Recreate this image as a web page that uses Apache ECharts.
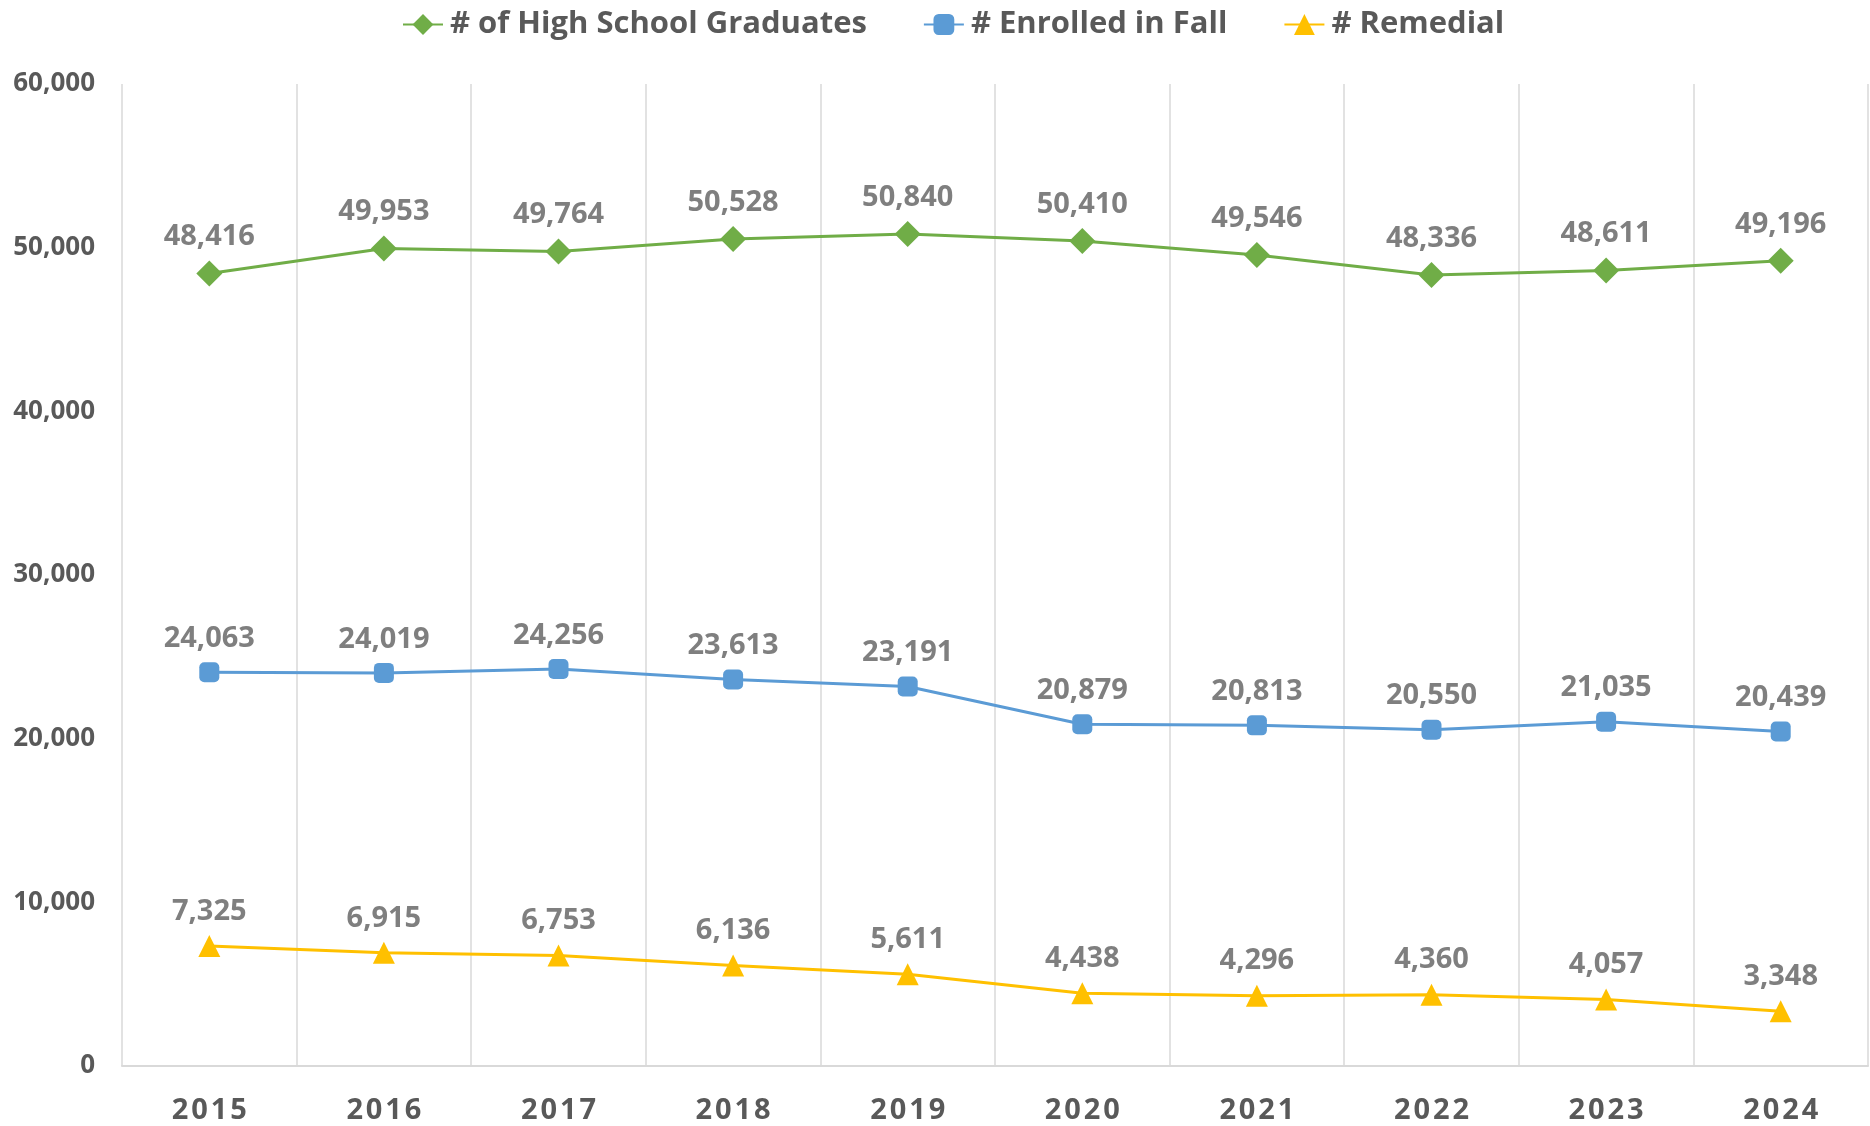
<!DOCTYPE html>
<html lang="en" style="height: 100%">
    <head>
        <meta charset="utf-8" />
    </head>
    <body style="height: 100%; margin: 0; background: #fff">
        <div id="container" style="height: 100%"></div>

        <script
            type="text/javascript"
            src="https://fastly.jsdelivr.net/npm/echarts@6/dist/echarts.min.js"
        ></script>

        <script type="text/javascript">
            var years = ['2015', '2016', '2017', '2018', '2019', '2020', '2021', '2022', '2023', '2024'];
            var graduates = [48416, 49953, 49764, 50528, 50840, 50410, 49546, 48336, 48611, 49196];
            var enrolled = [24063, 24019, 24256, 23613, 23191, 20879, 20813, 20550, 21035, 20439];
            var remedial = [7325, 6915, 6753, 6136, 5611, 4438, 4296, 4360, 4057, 3348];

            var FONT = '"Open Sans", "Noto Sans", sans-serif';

            var dom = document.getElementById('container');
            var myChart = echarts.init(dom, null, { renderer: 'canvas' });

            function fmt(v) {
                return v.toLocaleString('en-US');
            }

            function lineSeries(name, data, color, symbol, size) {
                return {
                    name: name,
                    type: 'line',
                    data: data,
                    symbol: symbol,
                    symbolSize: size,
                    showAllSymbol: true,
                    animation: false,
                    lineStyle: { color: color, width: 3 },
                    itemStyle: { color: color },
                    label: {
                        show: true,
                        position: 'top',
                        distance: 9,
                        color: '#7f7f7f',
                        fontFamily: FONT,
                        fontWeight: 'bold',
                        fontSize: 29,
                        formatter: function (p) {
                            return fmt(p.value);
                        }
                    }
                };
            }

            var option = {
                backgroundColor: '#fff',
                legend: {
                    top: 4,
                    left: 397,
                    itemWidth: 40,
                    itemHeight: 26,
                    itemGap: 56,
                    textStyle: {
                        color: '#595959',
                        fontFamily: FONT,
                        fontWeight: 'bold',
                        fontSize: 31,
                        padding: [0, 0, 0, 2]
                    },
                    data: ['# of High School Graduates', '# Enrolled in Fall', '# Remedial']
                },
                grid: {
                    left: 122,
                    right: 2,
                    top: 84,
                    bottom: 60,
                    containLabel: false
                },
                xAxis: {
                    type: 'category',
                    data: years,
                    boundaryGap: true,
                    axisLine: { lineStyle: { color: '#d9d9d9', width: 2 } },
                    axisTick: { show: false },
                    splitLine: { show: true, lineStyle: { color: '#d9d9d9', width: 1.5 } },
                    axisLabel: {
                        margin: 30,
                        color: '#595959',
                        fontFamily: FONT,
                        fontWeight: 'bold',
                        fontSize: 29,
                        formatter: function (v) {
                            return v.split('').join('\u200A');
                        }
                    }
                },
                yAxis: {
                    type: 'value',
                    min: 0,
                    max: 60000,
                    interval: 10000,
                    axisLine: { show: false },
                    axisTick: { show: false },
                    splitLine: { show: false },
                    axisLabel: {
                        margin: 27,
                        color: '#595959',
                        fontFamily: FONT,
                        fontWeight: 'bold',
                        fontSize: 26,
                        formatter: function (v) {
                            return fmt(v);
                        }
                    }
                },
                series: [
                    lineSeries('# of High School Graduates', graduates, '#70AD47', 'diamond', 26),
                    lineSeries('# Enrolled in Fall', enrolled, '#5B9BD5', 'roundRect', 20),
                    lineSeries('# Remedial', remedial, '#FFC000', 'triangle', 22)
                ]
            };

            myChart.setOption(option);
            window.addEventListener('resize', myChart.resize);
        </script>
    </body>
</html>
